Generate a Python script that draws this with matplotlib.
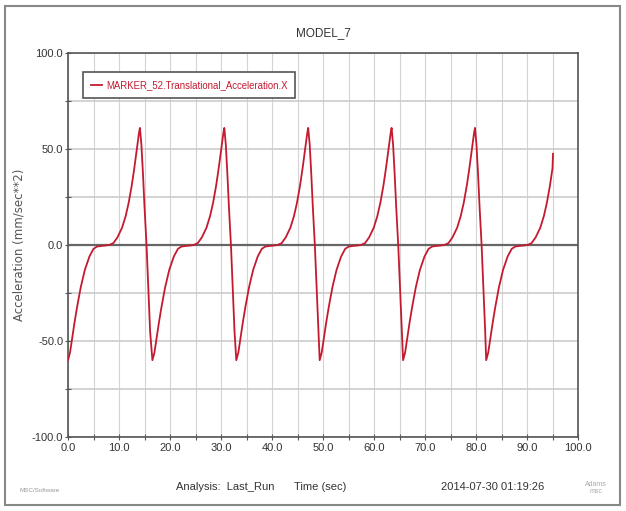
import numpy as np
import matplotlib.pyplot as plt
from matplotlib.patches import Rectangle

cycle_t = [0.0, 0.4, 0.8, 1.3, 1.8, 2.5, 3.3, 4.2, 5.0, 5.7, 6.5, 7.3, 8.1, 8.9,
           9.7, 10.6, 11.3, 11.9, 12.5, 13.0, 13.5, 13.9, 14.1, 14.4, 14.7,
           15.0, 15.4, 15.8, 16.1]
cycle_acc = [-60.0, -56.0, -49.0, -40.0, -32.0, -22.0, -13.0, -6.0, -2.0, -0.8,
             -0.5, -0.3, 0.0, 1.0, 4.0, 9.0, 15.0, 22.0, 31.0, 40.0, 50.0, 58.0,
             61.0, 52.0, 37.0, 20.0, 0.0, -25.0, -45.0]
# times of the minima and of the last sample
cycle_starts = [0.0, 16.55, 33.0, 49.35, 65.7, 82.0]
t_end = 95.1
t_last, acc_last = 95.1, 47.5

x_ticks = [0, 10, 20, 30, 40, 50, 60, 70, 80, 90, 100]
y_ticks = [-100, -50, 0, 50, 100]

t, acc = [], []
for s in cycle_starts:
    for p, a in zip(cycle_t, cycle_acc):
        if s + p < t_end:
            t.append(s + p)
            acc.append(a)
t.append(t_last)
acc.append(acc_last)

plt.rcParams['font.family'] = ['Liberation Sans', 'DejaVu Sans']
red = '#c41a30'
grey = '#555555'

fig = plt.figure(figsize=(6.26, 5.11), dpi=100)
ax = fig.add_axes([68 / 626, 1 - 437 / 511, 510 / 626, 384 / 511])

ax.plot(t, acc, color=red, lw=1.3, label='MARKER_52.Translational_Acceleration.X', zorder=3)

ax.set_xlim(0, 100)
ax.set_ylim(-100, 100)
ax.set_xticks(x_ticks)
ax.set_xticklabels(['%.1f' % v for v in x_ticks])
ax.set_yticks(y_ticks)
ax.set_yticklabels(['%.1f' % v for v in y_ticks])
ax.set_xticks(np.arange(5, 100, 10), minor=True)
ax.set_yticks([-75, -25, 25, 75], minor=True)
ax.tick_params(which='both', direction='inout', length=5, width=0.8, color=grey,
               labelsize=8, labelcolor='#333333')
ax.tick_params(axis='x', pad=2)
ax.tick_params(axis='y', pad=1)

ax.grid(True, which='both', axis='x', color='#d4d4d4', lw=0.8)
ax.grid(True, which='both', axis='y', color='#cccccc', lw=1.2)
ax.axhline(0, color='#666666', lw=1.6, zorder=2)
for sp in ax.spines.values():
    sp.set_color(grey)
    sp.set_linewidth(1.2)

ax.set_title('MODEL_7', fontsize=8.5, color='#333333', pad=12)
ax.set_ylabel('Acceleration (mm/sec**2)', fontsize=8.5, color='#555555',
              family='DejaVu Sans')
ax.yaxis.set_label_coords(-0.083, 0.5)

leg = ax.legend(loc='upper left', bbox_to_anchor=(0.02, 0.962), fontsize=6.9,
                handlelength=1.2, handletextpad=0.4, borderpad=0.8,
                fancybox=False, shadow=False, framealpha=1)
leg.get_frame().set_edgecolor(grey)
leg.get_frame().set_linewidth(1.2)
for txt in leg.get_texts():
    txt.set_color(red)

fig.text(225 / 626, 1 - 487 / 511, 'Analysis:  Last_Run', ha='center', va='center',
         fontsize=8, color='#333333')
fig.text(320 / 626, 1 - 487 / 511, 'Time (sec)', ha='center', va='center',
         fontsize=8, color='#333333')
fig.text(493 / 626, 1 - 487 / 511, '2014-07-30 01:19:26', ha='center', va='center',
         fontsize=8, color='#333333')
fig.text(40 / 626, 1 - 490 / 511, 'MSC/Software', ha='center', va='center',
         fontsize=4.5, color='#999999')
fig.text(596 / 626, 1 - 488 / 511, 'Adams\nmsc', ha='center', va='center',
         fontsize=5, color='#aaaaaa', linespacing=1.0)

fig.patches.append(Rectangle((5 / 626, 6 / 511), 615 / 626, 499 / 511,
                             transform=fig.transFigure, fill=False,
                             edgecolor='#888888', lw=1.5))

fig.savefig('out.png', dpi=100)
